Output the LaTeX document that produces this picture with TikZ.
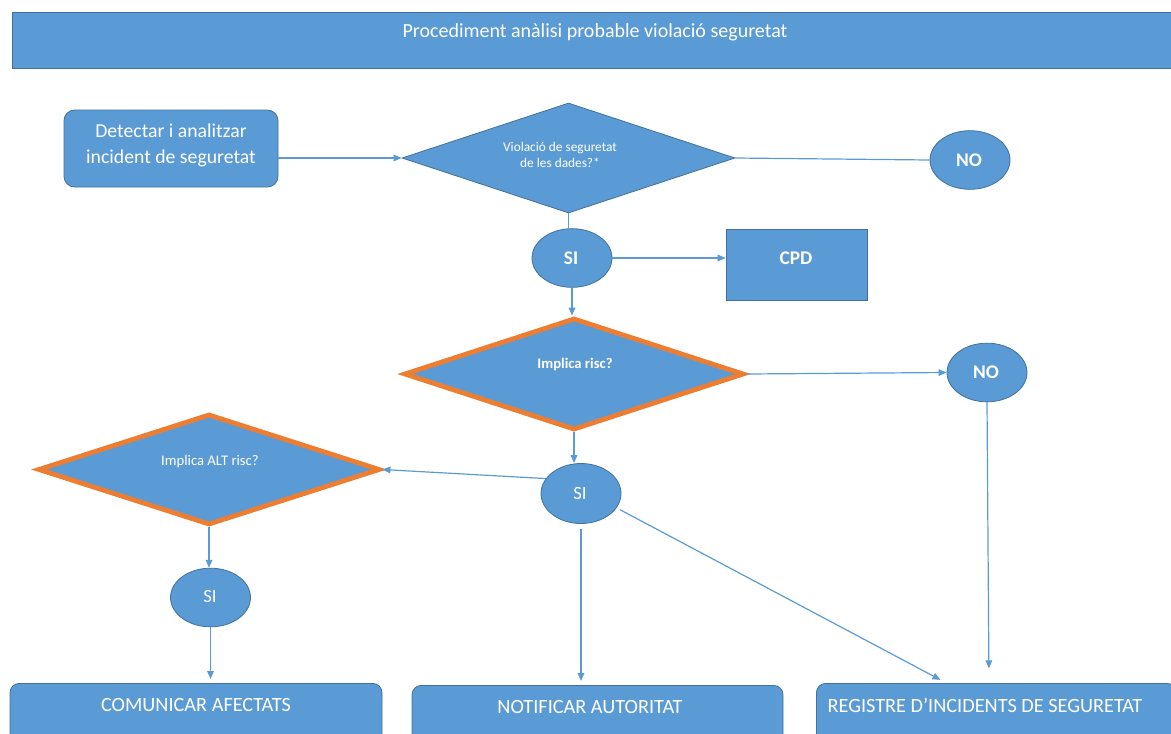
\documentclass[tikz,border=0pt]{standalone}
\usepackage{fontspec}
\setmainfont{Carlito}
\usepackage{xcolor}
\usepackage{tikz}
\usetikzlibrary{shapes.geometric, arrows.meta}
\definecolor{flow_blue}{HTML}{5B9BD5}
\definecolor{flow_edge}{HTML}{41719C}
\definecolor{flow_orange}{HTML}{ED7D31}

\tikzset{
  bluebox/.style={draw=flow_edge, fill=flow_blue, line width=0.6pt, inner sep=0pt},
  decision/.style={diamond, bluebox, minimum width=#1},
  riskdec/.style={diamond, fill=flow_blue, draw=flow_orange, line width=3.6pt, inner sep=0pt, minimum width=#1},
  answer/.style={ellipse, bluebox, minimum width=60pt, minimum height=44pt},
  wtext/.style={text=white, align=center},
  link/.style={draw=flow_blue, line width=0.9pt},
  arrow/.style={link, -{Triangle[length=6pt, width=5pt]}},
}

\begin{document}
\begin{tikzpicture}[x=0.75pt, y=-0.75pt]
      \useasboundingbox (0,0) rectangle (1171,733);
      \clip (0,0) rectangle (1171,733);
      % Draw the title bar
      \node[bluebox, minimum width=882pt, minimum height=42pt, anchor=north west] (title) at (12,12) {};
      \node[wtext, font=\fontsize{15}{18}\selectfont] (titletext) at (595,32) {Procediment anàlisi probable violació seguretat};
      % First step and first question
      \node[bluebox, rounded corners=8pt, minimum width=160.5pt, minimum height=57.75pt] (detect) at (171,148.5) {};
      \node[wtext, font=\fontsize{14.8}{19.5}\selectfont] (detecttext) at (171,145) {Detectar i analitzar\\incident de seguretat};
      \node[decision=249.75pt, minimum height=82.5pt] (violacio) at (568.5,158) {};
      \node[wtext, font=\fontsize{10}{12.5}\selectfont] (violaciotext) at (560,155) {Violació de seguretat\\de les dades?*};
      \node[answer] (no1) at (970,160) {};
      \node[wtext, font=\fontsize{14.5}{17}\selectfont\bfseries] (no1text) at (969,160) {NO};
      \node[answer] (si1) at (572,258) {};
      \node[wtext, font=\fontsize{14.5}{17}\selectfont\bfseries] (si1text) at (571,258) {SI};
      \node[bluebox, minimum width=105.75pt, minimum height=53.25pt] (cpd) at (796.5,264.5) {};
      \node[wtext, font=\fontsize{14.5}{17}\selectfont\bfseries] (cpdtext) at (796,258) {CPD};
      % Risk questions
      \node[riskdec=255pt, minimum height=84pt] (risc) at (574,374) {};
      \node[wtext, font=\fontsize{11}{13}\selectfont\bfseries] (risctext) at (575,364) {Implica risc?};
      \node[answer] (no2) at (987,372.5) {};
      \node[wtext, font=\fontsize{14.5}{17}\selectfont\bfseries] (no2text) at (986,372) {NO};
      \node[answer, minimum height=45pt] (si2) at (581,493.5) {};
      \node[wtext, font=\fontsize{14}{17}\selectfont] (si2text) at (580,493) {SI};
      \node[riskdec=256.5pt, minimum height=83.25pt] (altrisc) at (209,469.5) {};
      \node[wtext, font=\fontsize{11}{13}\selectfont] (altrisctext) at (210,462) {Implica ALT risc?};
      \node[answer] (si3) at (210.5,597.5) {};
      \node[wtext, font=\fontsize{14}{17}\selectfont] (si3text) at (210,596) {SI};
      % Final boxes
      \node[bluebox, rounded corners=7pt, minimum width=279pt, minimum height=52pt, anchor=north] (comunicar) at (196,683) {};
      \node[wtext, font=\fontsize{15.2}{18}\selectfont] (comunicartext) at (196,705) {COMUNICAR AFECTATS};
      \node[bluebox, rounded corners=7pt, minimum width=278.25pt, minimum height=52pt, anchor=north] (notificar) at (597.5,685) {};
      \node[wtext, font=\fontsize{15.2}{18}\selectfont] (notificartext) at (590,707) {NOTIFICAR AUTORITAT};
      \node[bluebox, rounded corners=7pt, minimum width=270pt, minimum height=52pt, anchor=north west] (registre) at (816,683) {};
      \node[wtext, font=\fontsize{15.2}{18}\selectfont] (registretext) at (985,705) {REGISTRE D’INCIDENTS DE SEGURETAT};
      \coordinate (registrein) at ([xshift=-37.5pt]registre.north);
      % Connectors
      \draw[arrow] (detect.east |- violacio.west) -- (violacio.west);
      \draw[link] (violacio.east) -- (no1.west);
      \draw[link] (violacio.south) -- (violacio.south |- si1.north);
      \draw[arrow] (si1.east) -- (si1.east -| cpd.west);
      \draw[arrow] (si1.south) -- (si1.south |- risc.north);
      \draw[arrow] (risc.east) -- (no2.west);
      \draw[arrow, shorten >=11pt] (no2.south) -- ([xshift=1.5pt]no2.south |- registre.north);
      \draw[arrow] (risc.south) -- (risc.south |- si2.north);
      \draw[arrow] (si2.157) -- (altrisc.east);
      \draw[arrow, shorten <=4pt, shorten >=3pt] (si2.south) -- (si2.south |- notificar.north);
      \draw[arrow, shorten <=3pt, shorten >=5pt] (si2.-22) -- (registrein);
      \draw[arrow] (altrisc.south) -- (altrisc.south |- si3.north);
      \draw[arrow, shorten >=3pt] (si3.south) -- (si3.south |- comunicar.north);
    \end{tikzpicture}
\end{document}
